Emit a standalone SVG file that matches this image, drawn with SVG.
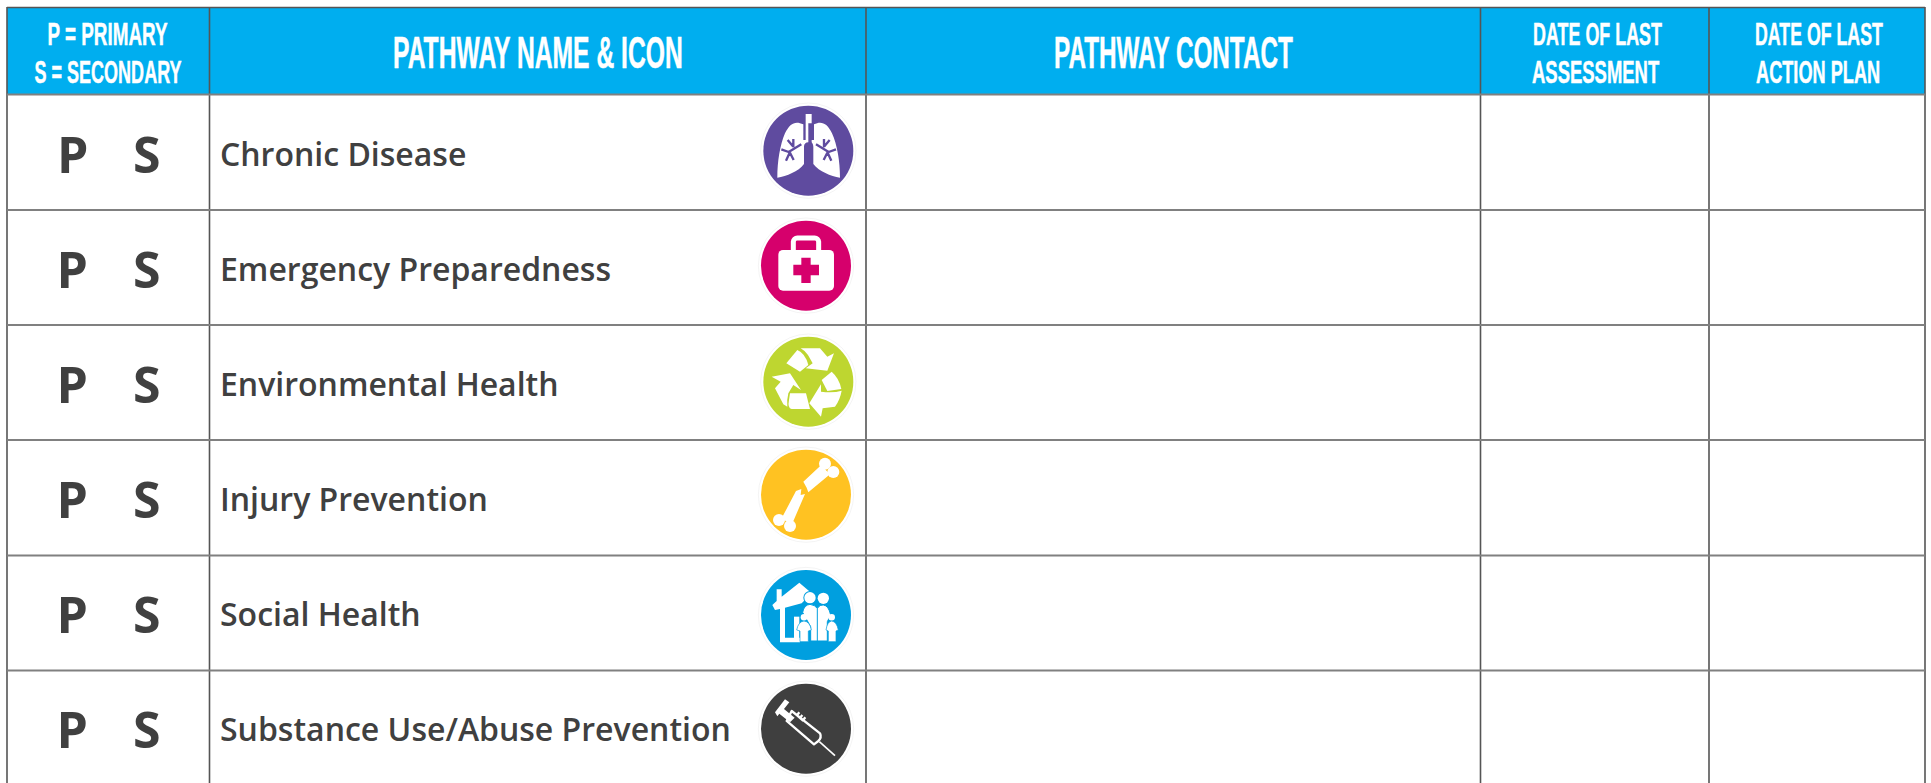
<svg xmlns="http://www.w3.org/2000/svg" width="1931" height="783" viewBox="0 0 1931 783">
<style>
.hd{font-family:"Liberation Sans",Arial,sans-serif;font-weight:700;fill:#fff;stroke:#fff;stroke-width:.5}
.h1{font-size:32px}.h2{font-size:44px}
.ps{font-family:"Open Sans",sans-serif;font-weight:700;font-size:50px;fill:#404040}
.nm{font-family:"Open Sans",sans-serif;font-weight:600;font-size:32px;fill:#404040}
.hl{stroke:#808080;stroke-width:2;fill:none}
.vl{stroke:#555;stroke-width:1.6;fill:none}
.halo{fill:#fff;stroke:#e8e8e8;stroke-width:1.500}
.w{fill:#fff}
</style>
<rect width="1931" height="783" fill="#fff"/>
<rect x="7" y="8" width="1918" height="86" fill="#00aeef"/>
<g id="connectors">
<path class="vl" d="M7 7.500H1925M7 7V783M209.500 7V783M866 7V783M1480.500 7V783M1709 7V783M1925 7V783"/>
<path class="hl" d="M7 94.500H1925M7 210H1925M7 325H1925M7 440H1925M7 555.500H1925M7 670.500H1925"/>
</g>
<g id="header">
<text class="hd h1" transform="matrix(.6 0 0 1 47.500 44.500)" textLength="200" lengthAdjust="spacingAndGlyphs">P = PRIMARY</text>
<text class="hd h1" transform="matrix(.6 0 0 1 34.500 82.500)" textLength="245" lengthAdjust="spacingAndGlyphs">S = SECONDARY</text>
<text class="hd h2" transform="matrix(.6 0 0 1 393 68)" textLength="483" lengthAdjust="spacingAndGlyphs">PATHWAY NAME &amp; ICON</text>
<text class="hd h2" transform="matrix(.6 0 0 1 1054 68)" textLength="398" lengthAdjust="spacingAndGlyphs">PATHWAY CONTACT</text>
<text class="hd h1" transform="matrix(.6 0 0 1 1533 44.500)" textLength="215" lengthAdjust="spacingAndGlyphs">DATE OF LAST</text>
<text class="hd h1" transform="matrix(.6 0 0 1 1532 82.500)" textLength="212" lengthAdjust="spacingAndGlyphs">ASSESSMENT</text>
<text class="hd h1" transform="matrix(.6 0 0 1 1755 44.500)" textLength="213" lengthAdjust="spacingAndGlyphs">DATE OF LAST</text>
<text class="hd h1" transform="matrix(.6 0 0 1 1756 82.500)" textLength="207" lengthAdjust="spacingAndGlyphs">ACTION PLAN</text>
</g>
<g id="row-chronic">
<text class="ps" x="57" y="172.500">P</text><text class="ps" x="133" y="172.500">S</text>
<text class="nm" x="220" y="166">Chronic Disease</text>
<g transform="translate(740 90) scale(.3333)">
<circle class="halo" cx="205" cy="182" r="143"/><circle cx="205" cy="182" r="135" fill="#5f4b9f"/>
<path class="w" d="M190 103C165 92 150 100 135 130C120 165 112 215 112 263C140 258 175 245 192 222V170C192 162 197 157 205 157V100H197V72H215V100V157C215 157 220 162 220 170V222C238 245 272 258 300 263C300 215 292 165 276 130C262 100 245 92 222 103V150H215V100H197V150H190Z"/>
<path d="M184 163L146 186M160 147L160 172M143 150L160 170M124 178L146 186M138 212L150 186M161 210L150 188M228 163L266 186M252 147L252 172M269 150L252 170M288 178L266 186M274 212L262 186M251 210L262 188" fill="none" stroke="#5f4b9f" stroke-width="7"/>
</g>
</g>
<g id="row-emergency">
<text class="ps" x="56.500" y="287.500">P</text><text class="ps" x="133" y="287.500">S</text>
<text class="nm" x="220" y="281">Emergency Preparedness</text>
<g transform="translate(740 90) scale(.3333)">
<circle class="halo" cx="198" cy="527" r="143"/><circle cx="198" cy="527" r="135" fill="#d6006c"/>
<path class="w" d="M129 480H268A14 14 0 0 1 282 494V588A14 14 0 0 1 268 602H129A14 14 0 0 1 115 588V494A14 14 0 0 1 129 480Z"/>
<path d="M160 490V455A12 12 0 0 1 172 444H224A12 12 0 0 1 236 455V490" fill="none" stroke="#fff" stroke-width="15"/>
<path d="M184 503H212V524H237V556H212V579H184V556H160V524H184Z" fill="#d6006c"/>
</g>
</g>
<g id="row-environmental">
<text class="ps" x="56.500" y="402.500">P</text><text class="ps" x="133" y="402.500">S</text>
<text class="nm" x="220" y="396">Environmental Health</text>
<g transform="translate(740 325) scale(.3333)">
<circle class="halo" cx="205" cy="170" r="143"/><circle cx="205" cy="170" r="135" fill="#bed630"/>
<path class="w" d="M139 115L172 75Q196 85 205 120L180 140Z"/>
<path class="w" d="M182 70H240L262 95L282 85L262 137L197 130L218 115L204 90Q195 77 182 70Z"/>
<path class="w" d="M95 155L150 145L183 195L160 180L145 205Q140 225 142 245L130 238L105 190L122 170Z"/>
<path class="w" d="M150 205H198L210 252H155Q142 250 147 225Z"/>
<path class="w" d="M243 275L208 235L243 178V200Q280 205 305 197Q300 225 285 245L248 250Z"/>
<path class="w" d="M245 165L275 140Q298 160 304 192L262 198Z"/>
</g>
</g>
<g id="row-injury">
<text class="ps" x="56.500" y="517.500">P</text><text class="ps" x="133" y="517.500">S</text>
<text class="nm" x="220" y="511">Injury Prevention</text>
<g transform="translate(740 325) scale(.3333)">
<circle class="halo" cx="198" cy="509" r="143"/><circle cx="198" cy="509" r="135" fill="#ffc222"/>
<circle class="w" cx="255" cy="416" r="18"/><circle class="w" cx="280" cy="441" r="18"/>
<path class="w" d="M190 470L243 421L270 448L205 502L200 488Z"/>
<circle class="w" cx="117" cy="585" r="18"/><circle class="w" cx="150" cy="603" r="18"/>
<path class="w" d="M168 498L184 492L182 510L195 507L155 600L125 580Z"/>
</g>
</g>
<g id="row-social">
<text class="ps" x="56.500" y="632.500">P</text><text class="ps" x="133" y="632.500">S</text>
<text class="nm" x="220" y="626">Social Health</text>
<g transform="translate(740 555) scale(.3333)">
<circle class="halo" cx="198" cy="180" r="143"/><circle cx="198" cy="180" r="135" fill="#009fdf"/>
<path class="w" d="M97 150L110 138V103H125V125L178 83L215 115L185 145L135 158V248H180V262H120V162L105 165Z"/>
<path class="w" d="M162 185H178V250H162Z"/>
<circle fill="#009fdf" cx="210" cy="128" r="20"/><circle fill="#009fdf" cx="250" cy="130" r="20"/>
<circle class="w" cx="210" cy="128" r="17"/><circle class="w" cx="250" cy="130" r="17"/>
<path class="w" d="M188 172Q192 150 210 148Q225 150 232 160Q240 148 250 150Q266 152 272 180L262 200V258H212V215L195 185Z" stroke="#009fdf" stroke-width="3"/>
<path d="M232 160V258" stroke="#009fdf" stroke-width="3"/>
<circle class="w" cx="192" cy="187" r="10"/><circle class="w" cx="275" cy="187" r="10"/>
<path class="w" d="M170 225Q175 200 192 198Q210 200 214 225L205 228V260H180V228Z" stroke="#009fdf" stroke-width="2"/>
<path class="w" d="M258 225Q262 200 275 198Q290 200 295 225L288 228V260H265V228Z" stroke="#009fdf" stroke-width="2"/>
</g>
</g>
<g id="row-substance">
<text class="ps" x="56.500" y="747.500">P</text><text class="ps" x="133" y="747.500">S</text>
<text class="nm" x="220" y="741">Substance Use/Abuse Prevention</text>
<g transform="translate(740 555) scale(.3333)">
<circle class="halo" cx="198" cy="521" r="143"/><circle cx="198" cy="521" r="135" fill="#3f3f3f"/>
<path class="w" d="M105 472L135 433L148 442L132 462L164 488L150 502L118 476L112 484Z"/>
<path d="M155 468L240 535Q246 548 235 558L222 568L140 498ZM168 478L190 498M178 472L171 481M187 480L180 489M196 487L189 496" fill="none" stroke="#fff" stroke-width="7" stroke-linejoin="round"/>
<path d="M238 560L285 602" stroke="#fff" stroke-width="5"/>
</g>
</g>
</svg>
